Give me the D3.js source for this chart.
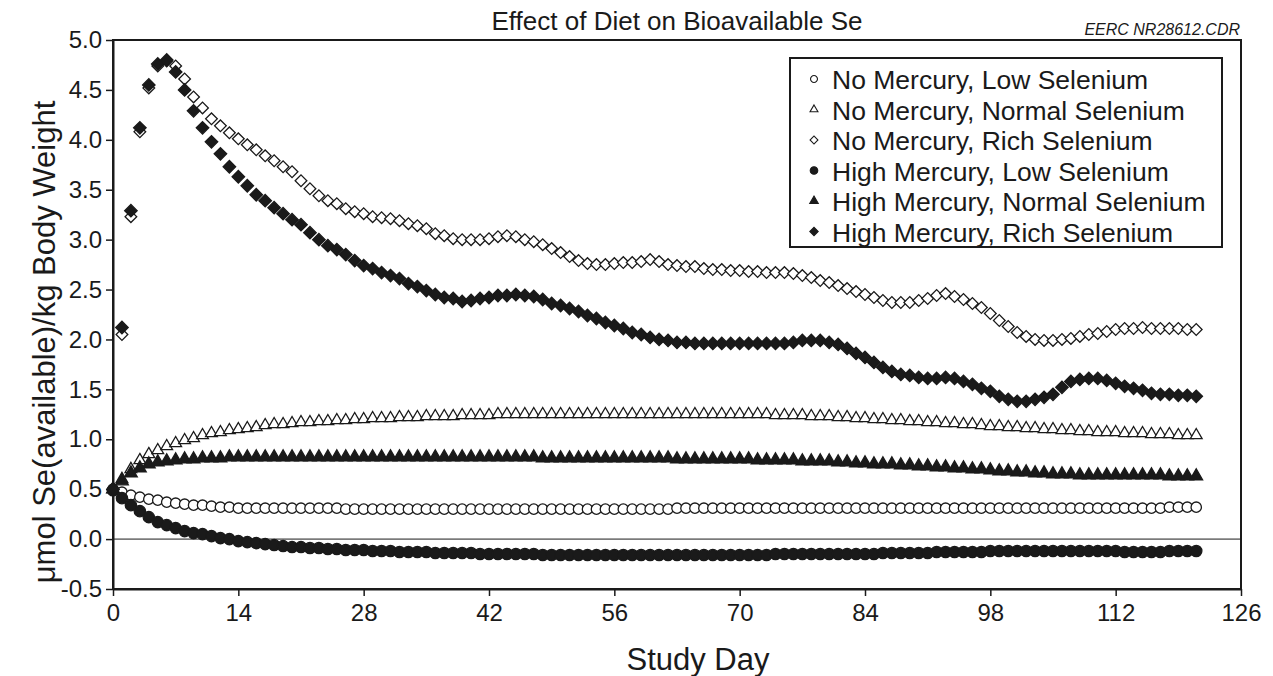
<!DOCTYPE html>
<html>
<head>
<meta charset="utf-8">
<script src="https://cdn.jsdelivr.net/npm/d3@7"></script>
<style>
  body { margin: 0; background: #fff; }
  svg text { font-family: "Liberation Sans", Arial, sans-serif; fill: #1a1a1a; }
</style>
</head>
<body>
<svg id="chart" width="1273" height="676"></svg>
<script>
"use strict";

// study days 0..121, one reading per day
var days = d3.range(0, 122);
var xTicks = [0, 14, 28, 42, 56, 70, 84, 98, 112, 126];
var yTicks = [-0.5, 0, 0.5, 1, 1.5, 2, 2.5, 3, 3.5, 4, 4.5, 5];

var seriesNames = [
  "No Mercury, Low Selenium",
  "No Mercury, Normal Selenium",
  "No Mercury, Rich Selenium",
  "High Mercury, Low Selenium",
  "High Mercury, Normal Selenium",
  "High Mercury, Rich Selenium"
];

var noHgLowSe = [
  0.50,0.47,0.44,0.42,0.40,0.39,0.37,0.36,0.35,0.34,
  0.34,0.33,0.32,0.32,0.31,0.31,0.31,0.31,0.31,0.31,
  0.31,0.31,0.31,0.31,0.31,0.31,0.30,0.30,0.30,0.30,
  0.30,0.30,0.30,0.30,0.30,0.30,0.30,0.30,0.30,0.30,
  0.30,0.30,0.30,0.30,0.30,0.30,0.30,0.30,0.30,0.30,
  0.30,0.30,0.30,0.30,0.30,0.30,0.30,0.30,0.30,0.30,
  0.30,0.30,0.30,0.31,0.31,0.31,0.31,0.31,0.31,0.31,
  0.31,0.31,0.31,0.31,0.31,0.31,0.31,0.31,0.31,0.31,
  0.31,0.31,0.31,0.31,0.31,0.31,0.31,0.31,0.31,0.31,
  0.31,0.31,0.31,0.31,0.31,0.31,0.31,0.31,0.31,0.31,
  0.31,0.31,0.31,0.31,0.31,0.31,0.31,0.31,0.31,0.31,
  0.31,0.31,0.31,0.31,0.31,0.31,0.31,0.31,0.32,0.32,
  0.32,0.32
];

var noHgNormSe = [
  0.50,0.60,0.70,0.79,0.85,0.89,0.93,0.96,0.99,1.01,
  1.04,1.06,1.07,1.09,1.10,1.11,1.12,1.14,1.15,1.15,
  1.16,1.17,1.17,1.18,1.18,1.19,1.19,1.20,1.20,1.21,
  1.21,1.21,1.22,1.22,1.22,1.23,1.23,1.23,1.23,1.24,
  1.24,1.24,1.24,1.25,1.25,1.25,1.25,1.25,1.25,1.25,
  1.25,1.25,1.25,1.25,1.25,1.25,1.25,1.25,1.25,1.25,
  1.25,1.25,1.25,1.25,1.25,1.25,1.25,1.25,1.25,1.25,
  1.25,1.25,1.25,1.25,1.24,1.24,1.24,1.24,1.23,1.23,
  1.23,1.22,1.22,1.21,1.21,1.20,1.20,1.19,1.19,1.18,
  1.18,1.17,1.17,1.16,1.16,1.15,1.15,1.14,1.13,1.13,
  1.12,1.12,1.11,1.11,1.10,1.10,1.09,1.09,1.08,1.08,
  1.07,1.07,1.07,1.06,1.06,1.06,1.05,1.05,1.05,1.04,
  1.04,1.04
];

var noHgRichSe = [
  0.50,2.05,3.23,4.08,4.52,4.74,4.79,4.74,4.61,4.43,
  4.32,4.21,4.14,4.07,4.01,3.95,3.90,3.84,3.79,3.73,
  3.68,3.59,3.51,3.44,3.39,3.36,3.31,3.28,3.26,3.23,
  3.22,3.21,3.19,3.16,3.14,3.11,3.06,3.04,3.01,3.00,
  3.00,3.00,3.01,3.03,3.04,3.03,3.00,2.98,2.95,2.91,
  2.87,2.83,2.79,2.76,2.75,2.75,2.76,2.77,2.77,2.78,
  2.80,2.78,2.75,2.74,2.73,2.73,2.71,2.70,2.70,2.69,
  2.69,2.68,2.68,2.67,2.67,2.67,2.66,2.64,2.62,2.59,
  2.57,2.54,2.51,2.48,2.45,2.42,2.39,2.37,2.37,2.37,
  2.39,2.41,2.44,2.46,2.43,2.40,2.36,2.32,2.26,2.19,
  2.13,2.07,2.03,2.00,1.99,1.99,2.00,2.01,2.03,2.05,
  2.06,2.08,2.10,2.11,2.11,2.12,2.11,2.11,2.11,2.11,
  2.10,2.10
];

var hgLowSe = [
  0.49,0.41,0.34,0.28,0.22,0.17,0.14,0.11,0.08,0.06,
  0.05,0.03,0.01,0.00,-0.02,-0.03,-0.04,-0.05,-0.06,-0.07,
  -0.08,-0.08,-0.09,-0.09,-0.10,-0.10,-0.11,-0.11,-0.11,-0.12,
  -0.12,-0.12,-0.13,-0.13,-0.13,-0.13,-0.14,-0.14,-0.14,-0.14,
  -0.14,-0.15,-0.15,-0.15,-0.15,-0.15,-0.15,-0.15,-0.16,-0.16,
  -0.16,-0.16,-0.16,-0.16,-0.16,-0.16,-0.16,-0.16,-0.16,-0.16,
  -0.16,-0.16,-0.16,-0.16,-0.16,-0.16,-0.16,-0.16,-0.16,-0.16,
  -0.16,-0.16,-0.16,-0.16,-0.15,-0.15,-0.15,-0.15,-0.15,-0.15,
  -0.15,-0.15,-0.15,-0.15,-0.15,-0.15,-0.14,-0.14,-0.14,-0.14,
  -0.14,-0.14,-0.13,-0.13,-0.13,-0.13,-0.13,-0.13,-0.12,-0.12,
  -0.12,-0.12,-0.12,-0.12,-0.12,-0.12,-0.12,-0.12,-0.12,-0.12,
  -0.12,-0.12,-0.12,-0.13,-0.13,-0.13,-0.13,-0.13,-0.12,-0.12,
  -0.12,-0.12
];

var hgNormSe = [
  0.50,0.58,0.66,0.71,0.75,0.77,0.78,0.79,0.80,0.80,
  0.81,0.81,0.81,0.82,0.82,0.82,0.82,0.82,0.82,0.82,
  0.82,0.82,0.82,0.82,0.82,0.82,0.82,0.82,0.82,0.82,
  0.82,0.82,0.82,0.82,0.82,0.82,0.82,0.82,0.82,0.82,
  0.82,0.82,0.82,0.82,0.82,0.82,0.82,0.82,0.81,0.81,
  0.81,0.81,0.81,0.81,0.81,0.81,0.81,0.81,0.81,0.81,
  0.81,0.81,0.81,0.80,0.80,0.80,0.80,0.80,0.80,0.80,
  0.80,0.80,0.79,0.79,0.79,0.79,0.79,0.78,0.78,0.78,
  0.78,0.77,0.77,0.76,0.76,0.75,0.75,0.75,0.74,0.74,
  0.73,0.73,0.72,0.72,0.71,0.71,0.70,0.70,0.69,0.68,
  0.68,0.67,0.67,0.66,0.66,0.65,0.65,0.65,0.64,0.64,
  0.64,0.64,0.64,0.64,0.64,0.64,0.64,0.64,0.63,0.63,
  0.63,0.63
];

var hgRichSe = [
  0.50,2.12,3.29,4.12,4.55,4.76,4.80,4.68,4.50,4.29,
  4.12,3.98,3.86,3.73,3.63,3.54,3.45,3.39,3.32,3.26,
  3.20,3.15,3.07,3.00,2.94,2.90,2.85,2.79,2.74,2.71,
  2.67,2.64,2.61,2.56,2.53,2.49,2.45,2.42,2.41,2.38,
  2.39,2.41,2.42,2.44,2.44,2.45,2.44,2.43,2.40,2.36,
  2.34,2.31,2.28,2.24,2.21,2.17,2.14,2.11,2.07,2.05,
  2.02,2.00,1.99,1.97,1.97,1.96,1.96,1.96,1.96,1.96,
  1.96,1.96,1.96,1.96,1.96,1.96,1.97,1.99,1.99,1.99,
  1.97,1.95,1.91,1.86,1.82,1.77,1.72,1.68,1.65,1.64,
  1.62,1.61,1.61,1.62,1.61,1.58,1.55,1.51,1.48,1.43,
  1.40,1.38,1.38,1.40,1.42,1.45,1.52,1.58,1.60,1.61,
  1.61,1.59,1.56,1.53,1.51,1.49,1.46,1.45,1.45,1.44,
  1.44,1.43
];

var seriesValues = [noHgLowSe, noHgNormSe, noHgRichSe, hgLowSe, hgNormSe, hgRichSe];

var svg = d3.select("#chart");
var margin = { left: 113, right: 32, top: 40, bottom: 87 };
var W = 1273, H = 676;

var x = d3.scaleLinear().domain([0, 126]).range([margin.left, W - margin.right]);
var y = d3.scaleLinear().domain([-0.5, 5]).range([H - margin.bottom, margin.top]);

// marker shapes: open = white fill, filled = black
var shapes = [
  { type: d3.symbolCircle, size: 84, fill: "#fff", rot: 0 },
  { type: d3.symbolTriangle, size: 60, fill: "#fff", rot: 0 },
  { type: d3.symbolSquare, size: 68, fill: "#fff", rot: 45 },
  { type: d3.symbolCircle, size: 100, fill: "#1a1a1a", rot: 0 },
  { type: d3.symbolTriangle, size: 70, fill: "#1a1a1a", rot: 0 },
  { type: d3.symbolSquare, size: 78, fill: "#1a1a1a", rot: 45 }
];

// frame (top and right sides)
svg.append("rect")
  .attr("x", x(0)).attr("y", y(5))
  .attr("width", x(126) - x(0)).attr("height", y(-0.5) - y(5))
  .attr("fill", "none").attr("stroke", "#1a1a1a").attr("stroke-width", 2);

// zero line
svg.append("line")
  .attr("x1", x(0)).attr("x2", x(126))
  .attr("y1", y(0)).attr("y2", y(0))
  .attr("stroke", "#1a1a1a").attr("stroke-width", 1);

// AXES
var xAxis = svg.append("g")
  .attr("transform", "translate(0," + y(-0.5) + ")")
  .call(d3.axisBottom(x).tickValues(xTicks).tickSize(7).tickSizeOuter(0).tickPadding(8));
var yAxis = svg.append("g")
  .attr("transform", "translate(" + x(0) + ",0)")
  .call(d3.axisLeft(y).tickValues(yTicks)
    .tickFormat(function (d) { return d3.format(".1f")(d).replace("\u2212", "-"); })
    .tickSize(7).tickSizeOuter(0).tickPadding(4));

[xAxis, yAxis].forEach(function (a) {
  a.select(".domain").attr("stroke", "#1a1a1a").attr("stroke-width", 2);
  a.selectAll(".tick line").attr("stroke", "#1a1a1a").attr("stroke-width", 1.5);
  a.selectAll(".tick text").style("font-size", "24px").attr("fill", "#1a1a1a");
});

// MARKERS
seriesValues.forEach(function (vals, s) {
  var sh = shapes[s];
  var sym = d3.symbol().type(sh.type).size(sh.size);
  svg.append("g").attr("class", "series-" + s)
    .selectAll("path")
    .data(vals)
    .enter()
    .append("path")
    .attr("d", sym)
    .attr("transform", function (d, i) {
      return "translate(" + x(days[i]) + "," + y(d) + ") rotate(" + sh.rot + ")";
    })
    .attr("fill", sh.fill)
    .attr("stroke", "#1a1a1a")
    .attr("stroke-width", 1.3);
});

// LEGEND
var legend = svg.append("g").attr("transform", "translate(790,58)");
legend.append("rect")
  .attr("width", 432).attr("height", 189)
  .attr("fill", "#fff").attr("stroke", "#1a1a1a").attr("stroke-width", 2);

seriesNames.forEach(function (name, s) {
  var sh = shapes[s];
  var row = legend.append("g").attr("transform", "translate(0," + (21 + s * 30.5) + ")");
  row.append("path")
    .attr("d", d3.symbol().type(sh.type).size(sh.size * 0.45))
    .attr("transform", "translate(24,0) rotate(" + sh.rot + ")")
    .attr("fill", sh.fill).attr("stroke", "#1a1a1a").attr("stroke-width", 1.1);
  row.append("text")
    .attr("x", 42).attr("y", 1)
    .attr("dominant-baseline", "central")
    .style("font-size", "26.5px")
    .text(name);
});

// TITLES
svg.append("text")
  .attr("x", 677).attr("y", 30)
  .attr("text-anchor", "middle")
  .style("font-size", "26px")
  .text("Effect of Diet on Bioavailable Se");

svg.append("text")
  .attr("x", 1240).attr("y", 35)
  .attr("text-anchor", "end")
  .style("font-size", "16px").style("font-style", "italic")
  .text("EERC NR28612.CDR");

svg.append("text")
  .attr("x", 698).attr("y", 670)
  .attr("text-anchor", "middle")
  .style("font-size", "31px")
  .text("Study Day");

svg.append("text")
  .attr("transform", "translate(55,342) rotate(-90)")
  .attr("text-anchor", "middle")
  .style("font-size", "31px")
  .text("μmol Se(available)/kg Body Weight");
</script>
</body>
</html>
